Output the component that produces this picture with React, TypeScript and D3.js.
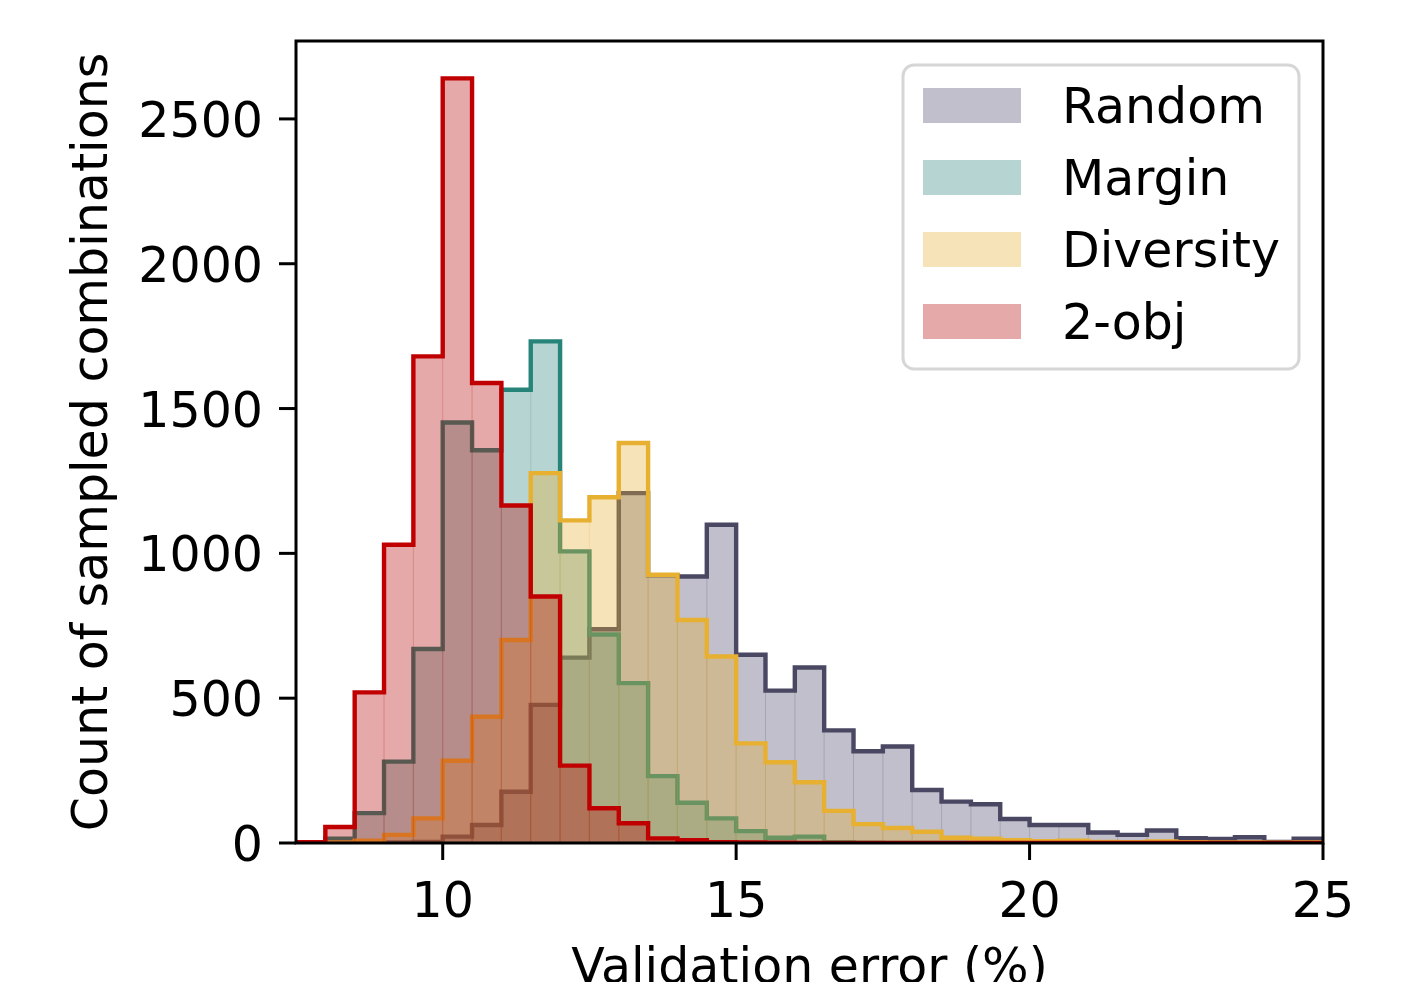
import React from 'react';
import * as d3 from 'd3';

// Histogram bins (left edges, width 0.5) for validation error (%)
const binStarts = [
  7.5, 8, 8.5, 9, 9.5, 10, 10.5, 11, 11.5, 12, 12.5, 13, 13.5, 14, 14.5, 15, 15.5, 16,
  16.5, 17, 17.5, 18, 18.5, 19, 19.5, 20, 20.5, 21, 21.5, 22, 22.5, 23, 23.5, 24, 24.5,
];
const binWidth = 0.5;

const randomCounts = [
  0, 0, 0, 2, 4, 22, 62, 177, 477, 640, 738, 1208, 924, 920, 1099, 650, 526, 606,
  389, 317, 333, 183, 143, 134, 83, 62, 62, 36, 28, 43, 17, 14, 20, 4, 15,
];
const marginCounts = [
  0, 15, 103, 281, 670, 1452, 1356, 1565, 1732, 1007, 720, 552, 231, 139, 85, 41, 18, 22,
  3, 1, 0, 0, 0, 0, 0, 0, 0, 0, 0, 0, 0, 0, 0, 0, 0,
];
const diversityCounts = [
  0, 2, 8, 28, 85, 284, 436, 701, 1277, 1114, 1194, 1381, 926, 770, 644, 344, 279, 210,
  111, 65, 52, 39, 18, 15, 10, 6, 8, 4, 3, 5, 3, 2, 2, 1, 2,
];
const twoObjCounts = [
  3, 55, 520, 1030, 1680, 2640, 1588, 1165, 851, 267, 120, 68, 16, 10, 3, 2, 1, 0,
  0, 0, 0, 0, 0, 0, 0, 0, 0, 0, 0, 0, 0, 0, 0, 0, 0,
];

const seriesNames = ['Random', 'Margin', 'Diversity', '2-obj'];
const seriesCounts = [randomCounts, marginCounts, diversityCounts, twoObjCounts];
const lineColors = ['#4a4763', '#268478', '#e8b030', '#c00000'];
const fillColors = ['#4b486a', '#2e877e', '#e8af34', '#b80909'];
const fillOpacity = 0.35;

const xTicks = [10, 15, 20, 25];
const yTicks = [0, 500, 1000, 1500, 2000, 2500];

const W = 1406;
const H = 982;
const left = 296;
const right = 1323;
const top = 41;
const bottom = 843;
const FONT = '"DejaVu Sans", sans-serif';
const FS = 49;

export default function App() {
  const x = d3.scaleLinear().domain([7.5, 25]).range([left, right]);
  const y = d3.scaleLinear().domain([0, 2769]).range([bottom, top]);

  const stepPath = (counts: number[]) => {
    const p = d3.path();
    p.moveTo(x(binStarts[0]), y(0));
    counts.forEach((v, i) => {
      p.lineTo(x(binStarts[i]), y(v));
      p.lineTo(x(binStarts[i] + binWidth), y(v));
    });
    p.lineTo(x(binStarts[binStarts.length - 1] + binWidth), y(0));
    return p.toString();
  };

  return (
    <svg
      width={W}
      height={H}
      style={{ position: 'absolute', left: 0, top: 0, background: '#fff' }}
      fontFamily={FONT}
    >
      <defs>
        <clipPath id="plot">
          <rect x={left} y={top} width={right - left} height={bottom - top} />
        </clipPath>
      </defs>
      <rect x={0} y={0} width={W} height={H} fill="#fff" />
      <g clipPath="url(#plot)">
        {seriesCounts.map((counts, si) => (
          <g key={seriesNames[si]}>
            {counts.map((v, i) =>
              v > 0 ? (
                <rect
                  key={i}
                  x={x(binStarts[i])}
                  y={y(v)}
                  width={x(binStarts[i] + binWidth) - x(binStarts[i])}
                  height={y(0) - y(v)}
                  fill={fillColors[si]}
                  fillOpacity={fillOpacity}
                  stroke={fillColors[si]}
                  strokeOpacity={0.12}
                  strokeWidth={1}
                />
              ) : null
            )}
            <path
              d={stepPath(counts)}
              fill="none"
              stroke={lineColors[si]}
              strokeWidth={4.4}
              strokeLinejoin="miter"
            />
          </g>
        ))}
      </g>

      {/* axes frame */}
      <rect
        x={left}
        y={top}
        width={right - left}
        height={bottom - top}
        fill="none"
        stroke="#000"
        strokeWidth={3}
      />

      {/* y ticks */}
      {yTicks.map((t) => (
        <g key={t}>
          <line x1={left - 17} x2={left} y1={y(t)} y2={y(t)} stroke="#000" strokeWidth={3} />
          <text x={left - 33} y={y(t) + 18} textAnchor="end" fontSize={FS} fill="#000">
            {t}
          </text>
        </g>
      ))}

      {/* x ticks */}
      {xTicks.map((t) => (
        <g key={t}>
          <line x1={x(t)} x2={x(t)} y1={bottom} y2={bottom + 17} stroke="#000" strokeWidth={3} />
          <text x={x(t)} y={917} textAnchor="middle" fontSize={FS} fill="#000">
            {t}
          </text>
        </g>
      ))}

      {/* axis labels */}
      <text x={(left + right) / 2} y={983} textAnchor="middle" fontSize={FS} fill="#000">
        Validation error (%)
      </text>
      <text
        transform={`translate(107, ${(top + bottom) / 2}) rotate(-90)`}
        textAnchor="middle"
        fontSize={FS}
        fill="#000"
      >
        Count of sampled combinations
      </text>

      {/* legend */}
      <g>
        <rect
          x={903}
          y={65}
          width={396}
          height={304}
          rx={11}
          ry={11}
          fill="#fff"
          fillOpacity={0.8}
          stroke="#d6d6d6"
          strokeWidth={3}
        />
        {seriesNames.map((name, i) => (
          <g key={name}>
            <rect
              x={923}
              y={88 + i * 72}
              width={98}
              height={35}
              fill={fillColors[i]}
              fillOpacity={fillOpacity}
            />
            <text x={1062} y={123 + i * 72} fontSize={FS} fill="#000">
              {name}
            </text>
          </g>
        ))}
      </g>
    </svg>
  );
}
